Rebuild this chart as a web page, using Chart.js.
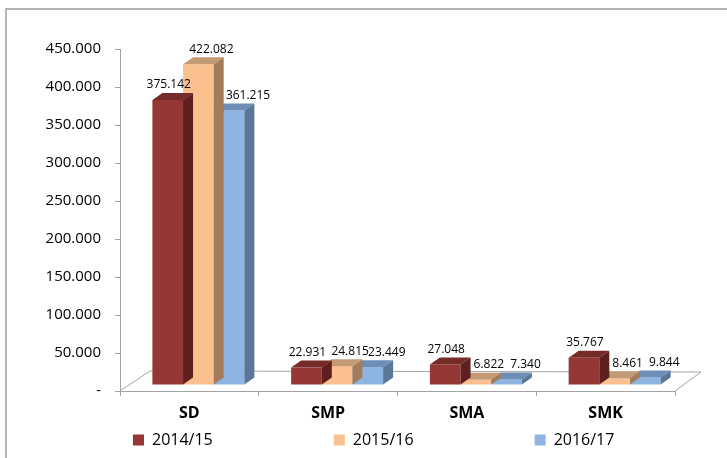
<!DOCTYPE html>
<html><head><meta charset="utf-8">
<script src="https://cdn.jsdelivr.net/npm/chart.js@4.4.1/dist/chart.umd.min.js"></script>
<style>html,body{margin:0;padding:0;background:#fff;overflow:hidden}canvas{display:block}</style>
</head><body>
<canvas id="c" width="727" height="458"></canvas>
<script>
// ---- data ----
const categories = ['SD', 'SMP', 'SMA', 'SMK'];
const seriesNames = ['2014/15', '2015/16', '2016/17'];
const values201415 = [375142, 22931, 27048, 35767];
const values201516 = [422082, 24815, 6822, 8461];
const values201617 = [361215, 23449, 7340, 9844];
const yTickValues = [0, 50000, 100000, 150000, 200000, 250000, 300000, 350000, 400000, 450000];

// ---- style ----
const FONT = "'Open Sans', 'Liberation Sans', sans-serif";
const FRONT = ['#953735', '#FAC090', '#8EB4E3'];
const TOPC = ['#772B29', '#C49A74', '#6E8EB8'];
const SIDEC = ['#5E201F', '#A27C5B', '#5A7698'];
const AXIS = '#a3a3a3';
const BAR_SHIFT = {x: 9, y: -6};
const BAR_DEPTH = {x: 10, y: -7};
const FLOOR_L = {x: 30, y: -20};
const FLOOR_R = {x: 26, y: -19};
const LABEL_DX = [10, 22, 28];
const LABEL_DY = -21;
const LEGEND_SPACES = 26;

function fmt(v) { return String(v).replace(/\B(?=(\d{3})+(?!\d))/g, '.'); }

const frame = {
  id: 'frame',
  beforeDraw(chart) {
    const ctx = chart.ctx;
    ctx.save();
    ctx.strokeStyle = '#9c9c9c';
    ctx.lineWidth = 1.5;
    ctx.beginPath();
    ctx.moveTo(6, chart.height + 5);
    ctx.lineTo(6, 9);
    ctx.lineTo(chart.width + 5, 9);
    ctx.stroke();
    ctx.restore();
  }
};

const threeD = {
  id: 'threeD',
  beforeDatasetsDraw(chart) {
    const {ctx, chartArea: a} = chart;
    ctx.save();
    ctx.strokeStyle = AXIS;
    ctx.lineWidth = 1;
    ctx.beginPath();
    ctx.moveTo(a.left, a.bottom);
    ctx.lineTo(a.left + FLOOR_L.x, a.bottom + FLOOR_L.y);
    ctx.lineTo(a.right + FLOOR_R.x, a.bottom + FLOOR_R.y);
    ctx.lineTo(a.right, a.bottom);
    ctx.stroke();
    ctx.restore();
    ctx.save();
    ctx.translate(BAR_SHIFT.x, BAR_SHIFT.y);
  },
  afterDatasetDraw(chart, args) {
    const ctx = chart.ctx;
    const i = args.index;
    const dx = BAR_DEPTH.x, dy = BAR_DEPTH.y;
    args.meta.data.forEach(el => {
      const l = el.x - el.width / 2, r = el.x + el.width / 2, t = el.y, b = el.base;
      ctx.fillStyle = TOPC[i];
      ctx.beginPath();
      ctx.moveTo(l, t); ctx.lineTo(r, t); ctx.lineTo(r + dx, t + dy); ctx.lineTo(l + dx, t + dy);
      ctx.closePath(); ctx.fill();
      ctx.fillStyle = SIDEC[i];
      ctx.beginPath();
      ctx.moveTo(r, t); ctx.lineTo(r + dx, t + dy); ctx.lineTo(r + dx, b + dy); ctx.lineTo(r, b);
      ctx.closePath(); ctx.fill();
    });
  },
  afterDatasetsDraw(chart) {
    const ctx = chart.ctx;
    ctx.restore();
    ctx.save();
    ctx.fillStyle = '#000';
    ctx.font = '12px ' + FONT;
    ctx.textAlign = 'center';
    ctx.textBaseline = 'middle';
    chart.data.datasets.forEach((ds, i) => {
      chart.getDatasetMeta(i).data.forEach((el, j) => {
        ctx.fillText(fmt(ds.data[j]), el.x + LABEL_DX[i], el.y + LABEL_DY);
      });
    });
    ctx.restore();
  }
};

new Chart(document.getElementById('c'), {
  type: 'bar',
  data: {
    labels: categories,
    datasets: [values201415, values201516, values201617].map((d, i) => ({
      label: seriesNames[i],
      data: d,
      backgroundColor: FRONT[i],
      borderWidth: 0,
      categoryPercentage: 0.663,
      barPercentage: 1.0
    }))
  },
  options: {
    responsive: false,
    animation: false,
    events: [],
    layout: {padding: {left: 0, right: 52, top: 49, bottom: 0}},
    plugins: {
      tooltip: {enabled: false},
      legend: {
        position: 'bottom',
        align: 'start',
        fullSize: false,
        labels: {
          boxWidth: 11, boxHeight: 11, padding: 13, color: '#000',
          font: {family: FONT, size: 16},
          generateLabels(chart) {
            const items = Chart.defaults.plugins.legend.labels.generateLabels(chart);
            items.forEach((it, k) => { if (k < items.length - 1) it.text += ' '.repeat(LEGEND_SPACES); });
            return items;
          }
        }
      }
    },
    scales: {
      x: {
        grid: {display: true, drawOnChartArea: false, drawTicks: true, tickLength: 5, color: AXIS, offset: true},
        border: {color: AXIS},
        ticks: {font: {family: FONT, size: 16, weight: 'bold'}, color: '#000', padding: 8},
        afterFit(s) { s.height = 28; }
      },
      y: {
        min: 0, max: 450000,
        afterBuildTicks(s) { s.ticks = yTickValues.map(v => ({value: v})); },
        ticks: {callback: v => v === 0 ? '-' : fmt(v), font: {family: FONT, size: 15}, color: '#000', padding: 14},
        grid: {drawOnChartArea: false, tickLength: 5, color: AXIS},
        border: {color: AXIS},
        afterFit(s) { s.width = 120; }
      }
    }
  },
  plugins: [frame, threeD]
});
</script>
</body></html>
